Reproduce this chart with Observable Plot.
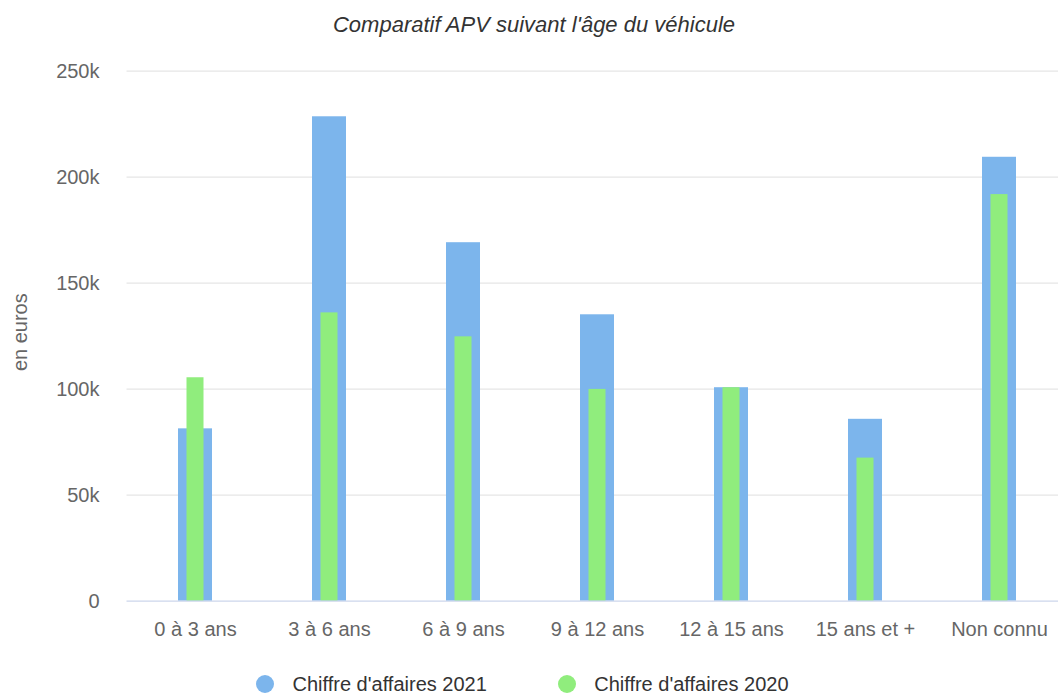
<!DOCTYPE html>
<html><head><meta charset="utf-8">
<script src="https://cdn.jsdelivr.net/npm/d3@7"></script>
<script src="https://cdn.jsdelivr.net/npm/@observablehq/plot@0.6"></script>
<style>
body{margin:0;background:#fff;overflow:hidden;font-family:"Liberation Sans",Arial,sans-serif;}
#title{height:50px;line-height:50px;text-align:center;font-style:italic;font-size:22px;color:#333;width:1068px;white-space:nowrap;}
#legend{position:relative;height:46px;width:1058px;}
.item{position:absolute;top:24px;height:20px;display:flex;align-items:center;font-size:20px;color:#333;white-space:nowrap;}
.dot{width:18px;height:18px;border-radius:50%;margin-right:18.5px;}
</style></head>
<body>
<div id="title">Comparatif APV suivant l'âge du véhicule</div>
<div id="chart"></div>
<div id="legend"></div>
<script>
const categories = ["0 à 3 ans","3 à 6 ans","6 à 9 ans","9 à 12 ans","12 à 15 ans","15 ans et +","Non connu"];
const ca2021 = [81300, 228500, 169100, 135100, 100700, 85800, 209400];
const ca2020 = [105400, 136000, 124700, 99900, 100700, 67500, 191800];
const seriesNames = ["Chiffre d'affaires 2021", "Chiffre d'affaires 2020"];
const seriesColors = ["#7cb5ec", "#90ed7d"];
const yTicks = [0, 50000, 100000, 150000, 200000, 250000];
const yLabel = "en euros";

const rows = categories.map((c, i) => ({cat: c, v2021: ca2021[i], v2020: ca2020[i]}));

const chart = Plot.plot({
  width: 1058,
  height: 600,
  marginTop: 20.7,
  marginBottom: 49.3,
  marginLeft: 126.5,
  marginRight: -10,
  style: {fontSize: "20px", color: "#666666", fontFamily: "'Liberation Sans', Arial, sans-serif", background: "#fff", overflow: "visible"},
  x: {domain: categories, paddingInner: 0.7472, paddingOuter: 0.3736, align: 0.5, label: null},
  y: {domain: [0, 250000], label: null},
  marks: [
    Plot.ruleY(yTicks.filter(d => d > 0), {stroke: "#e6e6e6", strokeWidth: 1.2}),
    Plot.barY(rows, {x: "cat", y: "v2021", fill: seriesColors[0]}),
    Plot.barY(rows, {x: "cat", y: "v2020", fill: seriesColors[1], insetLeft: 8.5, insetRight: 8.5}),
    Plot.ruleY([0], {stroke: "#ccd6eb", strokeWidth: 1.2}),
    Plot.axisX({tickSize: 0, tickPadding: 21, label: null}),
    Plot.axisY({ticks: yTicks, tickSize: 0, tickPadding: 27.5, label: null,
      tickFormat: d => d === 0 ? "0" : (d / 1000) + "k"}),
    Plot.text([yLabel], {frameAnchor: "left", dx: -106.5, dy: -4, rotate: -90, textAnchor: "middle", lineAnchor: "middle", fill: "currentColor"})
  ]
});
document.getElementById("chart").appendChild(chart);

const legend = document.getElementById("legend");
const lefts = [256, 557.7];
seriesNames.forEach((n, i) => {
  const it = document.createElement("div");
  it.className = "item";
  it.style.left = lefts[i] + "px";
  it.innerHTML = `<span class="dot" style="background:${seriesColors[i]}"></span><span>${n}</span>`;
  legend.appendChild(it);
});
</script>
</body></html>
